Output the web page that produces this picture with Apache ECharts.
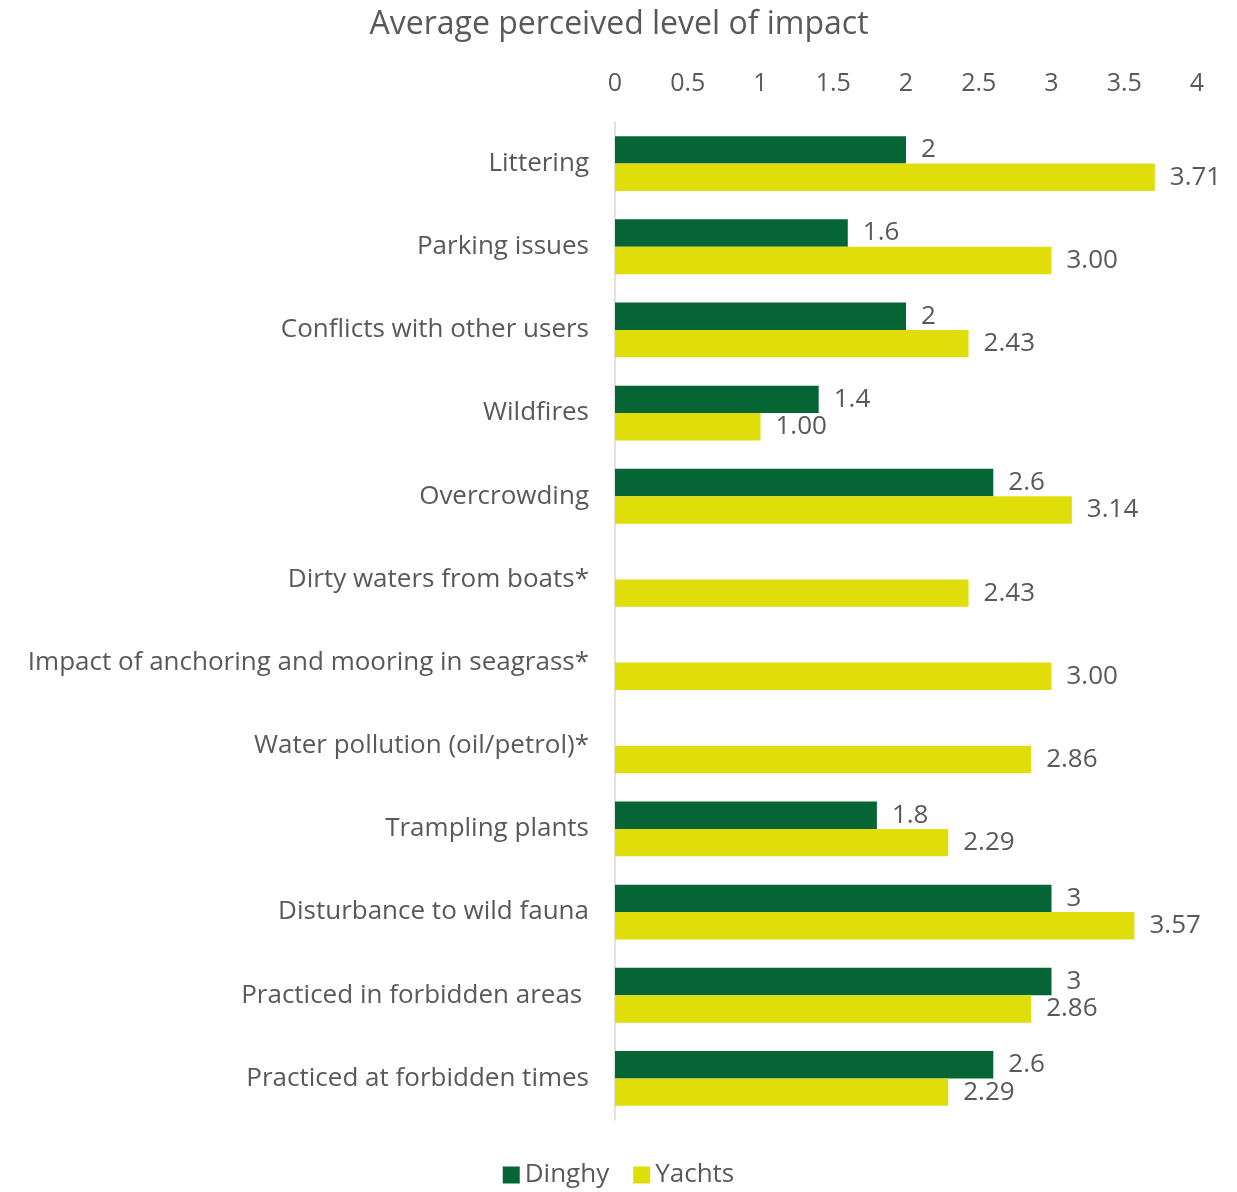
<!DOCTYPE html>
<html>
<head>
<meta charset="utf-8">
<script src="https://cdn.jsdelivr.net/npm/echarts@6/dist/echarts.min.js"></script>
<style>html,body{margin:0;padding:0;background:#fff}#c{width:1237px;height:1192px}</style>
</head>
<body>
<div id="c"></div>
<script>
const categories = ["Littering","Parking issues","Conflicts with other users","Wildfires","Overcrowding","Dirty waters from boats*","Impact of anchoring and mooring in seagrass*","Water pollution (oil/petrol)*","Trampling plants","Disturbance to wild fauna","Practiced in forbidden areas ","Practiced at forbidden times"];
const dinghy = [2, 1.6, 2, 1.4, 2.6, null, null, null, 1.8, 3, 3, 2.6];
const yachts = [3.71, 3.00, 2.43, 1.00, 3.14, 2.43, 3.00, 2.86, 2.29, 3.57, 2.86, 2.29];
const xTicks = [0, 0.5, 1, 1.5, 2, 2.5, 3, 3.5, 4];

const FONT = '"Open Sans", "Noto Sans", sans-serif';
const TXT = '#595959';
const chart = echarts.init(document.getElementById('c'));
chart.setOption({
  animation: false,
  textStyle: {fontFamily: FONT},
  title: {text: 'Average perceived level of impact', left: 614, top: 4, textAlign: 'center',
    textStyle: {fontFamily: FONT, fontSize: 32, fontWeight: 'normal', color: TXT}},
  legend: {bottom: -1, left: 'center', itemWidth: 17, itemHeight: 17, itemGap: 24,
    icon: 'rect', textStyle: {fontFamily: FONT, fontSize: 26, color: TXT}},
  grid: {left: 615, right: 40, top: 122, bottom: 72},
  xAxis: {type: 'value', position: 'top', min: xTicks[0], max: xTicks[xTicks.length-1], interval: 0.5,
    axisLine: {show: false}, axisTick: {show: false}, splitLine: {show: false},
    axisLabel: {fontFamily: FONT, fontSize: 25, color: TXT, margin: 26}},
  yAxis: {type: 'category', data: categories, inverse: true,
    axisLine: {show: true, lineStyle: {color: '#d9d9d9', width: 1.5}}, axisTick: {show: false},
    axisLabel: {fontFamily: FONT, fontSize: 26, color: TXT, margin: 26}},
  series: [
    {name: 'Dinghy', type: 'bar', data: dinghy, barGap: '0%', barCategoryGap: '34%',
      itemStyle: {color: '#066535'},
      label: {show: true, position: 'right', distance: 15, fontFamily: FONT, fontSize: 26, color: TXT,
        formatter: p => p.value == null ? '' : String(p.value)}},
    {name: 'Yachts', type: 'bar', data: yachts, barGap: '0%', barCategoryGap: '34%',
      itemStyle: {color: '#dfdd0a'},
      label: {show: true, position: 'right', distance: 15, fontFamily: FONT, fontSize: 26, color: TXT,
        formatter: p => p.value.toFixed(2)}}
  ]
});
</script>
</body>
</html>
